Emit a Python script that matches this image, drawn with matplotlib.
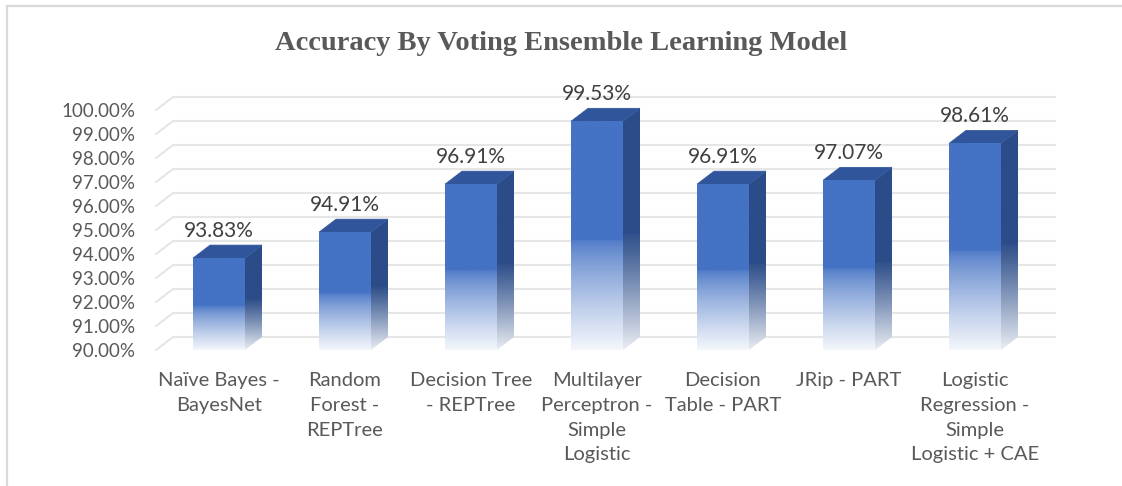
import numpy as np
import matplotlib
matplotlib.use("Agg")
import matplotlib.pyplot as plt
from matplotlib.patches import Polygon
from matplotlib.lines import Line2D
from matplotlib.colors import to_rgb

# ---------------- data ----------------
categories = [
    "Naïve Bayes -\nBayesNet",
    "Random\nForest -\nREPTree",
    "Decision Tree\n- REPTree",
    "Multilayer\nPerceptron -\nSimple\nLogistic",
    "Decision\nTable - PART",
    "JRip - PART",
    "Logistic\nRegression -\nSimple\nLogistic + CAE",
]
accuracy = [93.83, 94.91, 96.91, 99.53, 96.91, 97.07, 98.61]
yticks = [90, 91, 92, 93, 94, 95, 96, 97, 98, 99, 100]
title = "Accuracy By Voting Ensemble Learning Model"

# ---------------- style ----------------
W, H, DPI = 1122, 486, 100
FRONT = "#4472C4"
SIDE = "#2B4C88"
TOP = "#30559A"
GRID = "#e6e6e6"
TXT = "#595959"
LBL = "#404040"
SANS = ["Lato", "DejaVu Sans"]

fig = plt.figure(figsize=(W / DPI, H / DPI), dpi=DPI)
fig.patch.set_facecolor("white")

n = len(categories)
ymin, ymax = 90, 101
px_x = 126.0   # pixels per category
px_y = 24.0    # pixels per percent
left_px = 156
bottom_px = 136
ax = fig.add_axes([left_px / W, bottom_px / H, n * px_x / W, (ymax - ymin) * px_y / H])
ax.set_xlim(-0.5, n - 0.5)
ax.set_ylim(ymin, ymax)
for s in ax.spines.values():
    s.set_visible(False)
ax.set_facecolor("none")

# depth offset (in data units)
dxd = 17.0 / px_x
dyd = 13.0 / px_y
bw = 52.0 / px_x

# back-wall gridlines with slanted left end
for t in yticks:
    xs = [-0.5, -0.5 + dxd, n - 0.5 + dxd]
    ys = [t, t + dyd, t + dyd]
    ax.add_line(Line2D(xs, ys, color=GRID, lw=1.5, zorder=0, clip_on=False))

white = np.array([1.0, 1.0, 1.0])


def grad_image(base, fade_frac=0.48, n_pts=256, start=0.06, end=0.94, power=0.8):
    c = np.array(to_rgb(base))
    t = np.linspace(0, 1, n_pts)  # 0 bottom, 1 top
    a = np.where(t > fade_frac, 0.0, start + (end - start) * (1 - t / fade_frac) ** power)
    cols = c[None, :] * (1 - a[:, None]) + white[None, :] * a[:, None]
    return cols[:, None, :]


front_img = grad_image(FRONT)
side_img = grad_image(SIDE, start=0.03, end=0.9, power=1.1)

for i, v in enumerate(accuracy):
    x0, x1 = i - bw / 2, i + bw / 2
    # side face
    side = Polygon([(x1, ymin), (x1, v), (x1 + dxd, v + dyd), (x1 + dxd, ymin + dyd)],
                   closed=True, facecolor="none", edgecolor="none", zorder=2)
    ax.add_patch(side)
    im = ax.imshow(side_img, extent=(x1, x1 + dxd, ymin, v + dyd), origin="lower",
                   aspect="auto", interpolation="bilinear", zorder=2)
    im.set_clip_path(side)
    # top face
    top = Polygon([(x0, v), (x1, v), (x1 + dxd, v + dyd), (x0 + dxd, v + dyd)],
                  closed=True, facecolor=TOP, edgecolor=TOP, lw=0.5, zorder=3)
    ax.add_patch(top)
    # front face
    ax.imshow(front_img, extent=(x0, x1, ymin, v), origin="lower",
              aspect="auto", interpolation="bilinear", zorder=4)
    # value label
    ax.annotate(f"{v:.2f}%", xy=(i, v + dyd), xytext=(0, 3), textcoords="offset points",
                ha="center", va="bottom", fontsize=15, color=LBL, family=SANS, zorder=5)
    # category label
    ax.annotate(categories[i], xy=(i, ymin), xytext=(0, -16), textcoords="offset points",
                ha="center", va="top", fontsize=14.5, color=TXT, family=SANS,
                linespacing=1.55, annotation_clip=False)

ax.set_xlim(-0.5, n - 0.5)
ax.set_ylim(ymin, ymax)
ax.set_xticks([])
ax.set_yticks(yticks)
ax.set_yticklabels([f"{t:.2f}%" for t in yticks], family=SANS, fontsize=13.5, color=TXT)
ax.tick_params(axis="y", length=0, pad=15)

# title
fig.text(0.5, 1 - 43 / H, title, ha="center", va="center", fontsize=20.5,
         fontweight="bold", color=TXT, family=["Liberation Serif", "DejaVu Serif"])

# chart border (top and left visible)
fig.add_artist(Line2D([7 / W, 1.0], [1 - 6 / H, 1 - 6 / H], color="#d9d9d9", lw=1.6,
                      transform=fig.transFigure))
fig.add_artist(Line2D([7 / W, 7 / W], [0, 1 - 6 / H], color="#d9d9d9", lw=1.6,
                      transform=fig.transFigure))

fig.savefig("out.png", dpi=DPI, facecolor="white")
